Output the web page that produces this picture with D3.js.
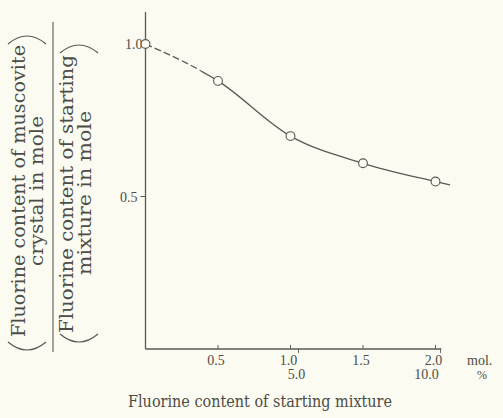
<!DOCTYPE html>
<html><head><meta charset="utf-8">
<script src="https://cdn.jsdelivr.net/npm/d3@7"></script>
<style>
html,body{margin:0;padding:0;background:#fbfbf1;}
svg{display:block;}
text{font-family:"Liberation Serif","DejaVu Serif",serif;fill:#4d4d47;}
.big{font-family:"DejaVu Serif","Liberation Serif",serif;}
</style></head>
<body>
<script>
// ---- data ----
const fluorineMol = [0, 0.5, 1.0, 1.5, 2.0];          // x, mol.
const ratio       = [1.0, 0.879, 0.698, 0.609, 0.549]; // y ratio
const curveTailX  = [2.1];                             // curve continues past last point
const curveTailY  = [0.538];
const xTicks = [0.5, 1.0, 1.5, 2.0];
const xTickLabels = ["0.5", "1.0", "1.5", "2.0"];
const pctTicks = [1.0, 2.0];        // positions (in mol.) of the % labels
const pctLabels = ["5.0", "10.0"];
const yTicks = [0.5, 1.0];
const yTickLabels = ["0.5", "1.0"];
const dashedUntil = 0.38;           // dashed part of the curve

const W = 503, H = 418;
const svg = d3.select("body").append("svg").attr("width", W).attr("height", H);
const ink = "#5a5a55";

const x = d3.scaleLinear().domain([0, 2]).range([145.5, 435.5]);
const y = d3.scaleLinear().domain([0, 1]).range([349, 44]);

// axes lines
svg.append("line").attr("x1", x(0)).attr("x2", x(0)).attr("y1", y(0)).attr("y2", y(1.105))
  .attr("stroke", ink).attr("stroke-width", 1.3);
svg.append("line").attr("x1", x(0)).attr("x2", x(2.04)).attr("y1", y(0)).attr("y2", y(0))
  .attr("stroke", ink).attr("stroke-width", 1.3);

// x ticks (inward)
svg.selectAll(".xt").data(xTicks).enter().append("line")
  .attr("x1", d => x(d)).attr("x2", d => x(d)).attr("y1", y(0)).attr("y2", y(0) - 4)
  .attr("stroke", ink).attr("stroke-width", 1);
svg.selectAll(".xtl").data(xTicks).enter().append("text")
  .attr("x", d => x(d) - 2).attr("y", y(0) + 16).attr("text-anchor", "middle")
  .attr("font-size", 14).text((d, i) => xTickLabels[i]);
// % ticks (downward) and labels
svg.selectAll(".pt").data(pctTicks).enter().append("line")
  .attr("x1", d => x(d) + (d === 2 ? 5 : 8)).attr("x2", d => x(d) + (d === 2 ? 5 : 8))
  .attr("y1", y(0)).attr("y2", y(0) + 4)
  .attr("stroke", ink).attr("stroke-width", 0.9);
svg.selectAll(".ptl").data(pctTicks).enter().append("text")
  .attr("x", d => x(d) + (d === 2 ? -9 : 6)).attr("y", y(0) + 30).attr("text-anchor", "middle")
  .attr("font-size", 14).text((d, i) => pctLabels[i]);
svg.append("text").attr("x", 467).attr("y", y(0) + 16).attr("font-size", 14).text("mol.");
svg.append("text").attr("x", 477).attr("y", y(0) + 30).attr("font-size", 12).text("%");

// y ticks
svg.selectAll(".yt").data(yTicks).enter().append("line")
  .attr("x1", x(0) - 5).attr("x2", x(0)).attr("y1", d => y(d)).attr("y2", d => y(d))
  .attr("stroke", ink).attr("stroke-width", 1);
svg.selectAll(".ytl").data(yTicks).enter().append("text")
  .attr("x", d => d === 1 ? x(0) - 3 : x(0) - 8).attr("y", d => y(d) + 5).attr("text-anchor", "end")
  .attr("font-size", 14).text((d, i) => yTickLabels[i]);

// curve
const pts = fluorineMol.map((d, i) => [d, ratio[i]]).concat(curveTailX.map((d, i) => [d, curveTailY[i]]));
const line = d3.line().x(d => x(d[0])).y(d => y(d[1])).curve(d3.curveMonotoneX);
const defs = svg.append("defs");
defs.append("clipPath").attr("id", "cd").append("rect")
  .attr("x", 0).attr("y", 0).attr("width", x(dashedUntil)).attr("height", H);
defs.append("clipPath").attr("id", "cs").append("rect")
  .attr("x", x(dashedUntil)).attr("y", 0).attr("width", W).attr("height", H);
svg.append("path").attr("d", line(pts)).attr("fill", "none").attr("stroke", ink)
  .attr("stroke-width", 1.3).attr("stroke-dasharray", "7,3").attr("clip-path", "url(#cd)");
svg.append("path").attr("d", line(pts)).attr("fill", "none").attr("stroke", ink)
  .attr("stroke-width", 1.3).attr("clip-path", "url(#cs)");

// markers
svg.selectAll(".pt-c").data(fluorineMol).enter().append("circle")
  .attr("cx", d => x(d)).attr("cy", (d, i) => y(ratio[i])).attr("r", 4.4)
  .attr("fill", "#fbfbf1").attr("stroke", ink).attr("stroke-width", 1.1);

// x label
svg.append("text").attr("class", "big").attr("x", 128).attr("y", 407).attr("font-size", 17)
  .attr("textLength", 264).attr("lengthAdjust", "spacingAndGlyphs")
  .text("Fluorine content of starting mixture");

// y label: fraction of two parenthesised expressions (rotated)
const yl = svg.append("g");
function vtext(cx, cy, len, s, fs) {
  yl.append("text").attr("class", "big").attr("transform", `translate(${cx},${cy}) rotate(-90)`)
    .attr("text-anchor", "middle").attr("font-size", fs)
    .attr("textLength", len).attr("lengthAdjust", "spacingAndGlyphs").text(s);
}
vtext(25, 191, 292, "Fluorine content of muscovite", 18);
vtext(43, 191, 150, "crystal in mole", 18);
vtext(73, 194, 278, "Fluorine content of starting", 18);
vtext(91, 193, 164, "mixture in mole", 18);
// fraction bar
yl.append("line").attr("x1", 53).attr("x2", 53).attr("y1", 22).attr("y2", 352)
  .attr("stroke", ink).attr("stroke-width", 1.1);
// parentheses drawn as arcs (rotated brackets)
function paren(x1, x2, yb, up) {
  const mid = (x1 + x2) / 2, h = up ? -8 : 8;
  yl.append("path").attr("d", `M${x1},${yb} Q${mid},${yb + 2 * h} ${x2},${yb}`)
    .attr("fill", "none").attr("stroke", ink).attr("stroke-width", 1.2);
}
paren(8, 46, 44, true);
paren(8, 46, 342, false);
paren(60, 98, 53, true);
paren(60, 98, 334, false);
</script>
</body></html>
